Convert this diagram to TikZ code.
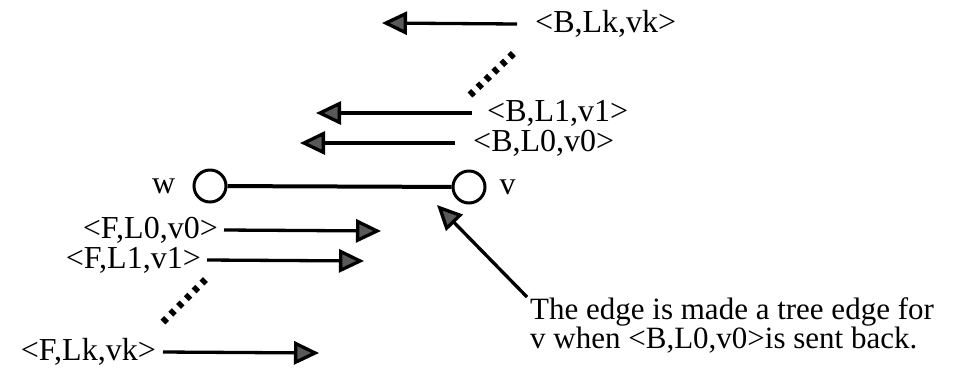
\documentclass[tikz,border=0pt]{standalone}
\usepackage{fontspec}
\setmainfont{Liberation Serif}
\usepackage{xcolor}
\usepackage{tikz}
\usetikzlibrary{arrows.meta, positioning}

\begin{document}
\begin{tikzpicture}[
    x=1pt, y=-1pt,
    node distance=14pt,
    lbl/.style={
        inner sep=0pt,
        font=\fontsize{32}{27}\selectfont
    },
    note/.style={
        inner sep=0pt,
        align=left,
        font=\fontsize{31}{27}\selectfont
    },
    vertex/.style={
        circle,
        draw,
        line width=3pt,
        minimum size=32pt,
        inner sep=0pt
    },
    arrow/.style={
        -{Triangle[length=25pt, width=23pt, fill=black!65]},
        line width=3.3pt
    },
    dots/.style={
        line width=7pt,
        dash pattern=on 5pt off 6pt
    }
]
\useasboundingbox (0,0) rectangle (960,368);

% the edge w -- v
\node[vertex] (w) at (210,186) {};
\node[vertex] (v) at (469,187) {};
\node[lbl, left=17pt of w] (wlabel) {w};
\node[lbl, right=13pt of v] (vlabel) {v};
\draw[line width=4pt] (w) -- (v);

% messages sent back
\node[lbl, anchor=west] (bk) at (535,24) {<B,Lk,vk>};
\node[lbl, anchor=west] (bone) at (487,113) {<B,L1,v1>};
\node[lbl, anchor=west] (bzero) at (473,143) {<B,L0,v0>};
\coordinate (bktip) at (382,23);
\coordinate (bonetip) at (316,113);
\coordinate (bzerotip) at (300,143);

\draw[arrow] ([xshift=-18pt]bk.west) -- (bktip);
\draw[arrow] ([xshift=-15pt]bone.west) -- (bonetip);
\draw[arrow] ([xshift=-18pt]bzero.west) -- (bzerotip);
\draw[dots] (470,95) -- (515,52);

% messages sent forward
\node[lbl, anchor=east] (fzero) at (218,230) {<F,L0,v0>};
\node[lbl, anchor=east] (fone) at (201,260) {<F,L1,v1>};
\node[lbl, anchor=east] (fk) at (156,352) {<F,Lk,vk>};
\coordinate (fzerotip) at (381,231);
\coordinate (fonetip) at (364,261);
\coordinate (fktip) at (319,353);

\draw[arrow] ([xshift=6pt]fzero.east) -- (fzerotip);
\draw[arrow] ([xshift=6pt]fone.east) -- (fonetip);
\draw[arrow] ([xshift=7pt]fk.east) -- (fktip);
\draw[dots] (163,322) -- (208,277);

% note on v
\node[note, anchor=north west] (note) at (530,297)
{The edge is made a tree edge for\\
v when <B,L0,v0>is sent back.};
\coordinate (vtip) at (437,205);
\draw[arrow] ([shift={(-3pt,0pt)}]note.north west) -- (vtip);

\end{tikzpicture}
\end{document}
